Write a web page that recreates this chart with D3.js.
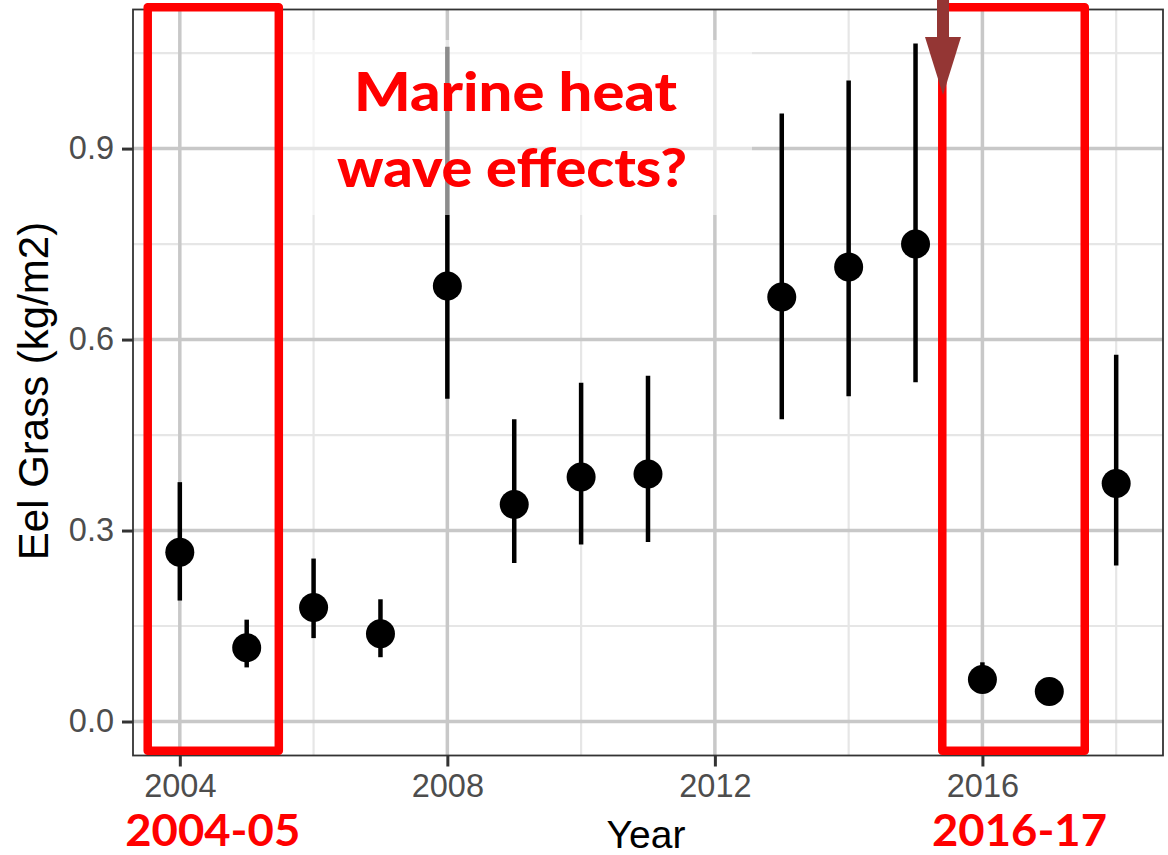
<!DOCTYPE html>
<html><head><meta charset="utf-8">
<script src="https://cdn.jsdelivr.net/npm/d3@7"></script>
<style>body{margin:0;background:#fff}svg{display:block}</style>
</head><body>
<svg id="c" width="1168" height="855"></svg>
<script>
const years = [2004,2005,2006,2007,2008,2009,2010,2011,2013,2014,2015,2016,2017,2018];
const means = [0.266,0.116,0.179,0.138,0.684,0.341,0.384,0.389,0.667,0.714,0.750,0.066,0.047,0.374];
const lower = [0.190,0.085,0.131,0.101,0.507,0.249,0.278,0.282,0.475,0.511,0.533,0.045,0.030,0.245];
const upper = [0.376,0.160,0.256,0.192,1.060,0.475,0.532,0.543,0.955,1.007,1.065,0.093,0.062,0.576];
const xMajor = [2004,2008,2012,2016];
const xMinor = [2006,2010,2014,2018];
const yMajor = [0.0,0.3,0.6,0.9];
const yMinor = [0.15,0.45,0.75,1.05];
const boxX0 = [2003.52, 2015.40];
const boxX1 = [2005.48, 2017.53];
const boxLabels = ["2004-05","2016-17"];
const noteLines = ["Marine heat","wave effects?"];

const svg = d3.select("#c");
const L=133, R=1163, T=9.5, B=755.5;
const x = d3.scaleLinear().domain([2003.3,2018.7]).range([L,R]);
const y = d3.scaleLinear().domain([-0.0534,1.1185]).range([B,T]);

svg.append("rect").attr("width",1168).attr("height",855).attr("fill","#fff");

// minor grid
const g = svg.append("g");
g.selectAll(".ym").data(yMinor).join("line").attr("x1",L).attr("x2",R)
 .attr("y1",d=>y(d)).attr("y2",d=>y(d)).attr("stroke","#e6e6e6").attr("stroke-width",2.2);
g.selectAll(".xm").data(xMinor).join("line").attr("y1",T).attr("y2",B)
 .attr("x1",d=>x(d)).attr("x2",d=>x(d)).attr("stroke","#e6e6e6").attr("stroke-width",2.2);
// major grid
g.selectAll(".yM").data(yMajor).join("line").attr("x1",L).attr("x2",R)
 .attr("y1",d=>y(d)).attr("y2",d=>y(d)).attr("stroke","#c8c8c8").attr("stroke-width",3.5);
g.selectAll(".xM").data(xMajor).join("line").attr("y1",T).attr("y2",B)
 .attr("x1",d=>x(d)).attr("x2",d=>x(d)).attr("stroke","#c8c8c8").attr("stroke-width",3.5);

// error bars & points
const idx = d3.range(years.length);
svg.append("g").selectAll("line").data(idx).join("line")
 .attr("x1",i=>x(years[i])).attr("x2",i=>x(years[i]))
 .attr("y1",i=>y(lower[i])).attr("y2",i=>y(upper[i]))
 .attr("stroke","#000").attr("stroke-width",4.5);
svg.append("g").selectAll("circle").data(idx).join("circle")
 .attr("cx",i=>x(years[i])).attr("cy",i=>y(means[i])).attr("r",14.5).attr("fill","#000");

// panel border
svg.append("rect").attr("x",L).attr("y",T).attr("width",R-L).attr("height",B-T)
 .attr("fill","none").attr("stroke","#333").attr("stroke-width",1.8);

// axes
const xAxis = svg.append("g").attr("transform",`translate(0,${B})`)
 .call(d3.axisBottom(x).tickValues(xMajor).tickFormat(d3.format("d")).tickSize(11).tickPadding(7));
const yAxis = svg.append("g").attr("transform",`translate(${L},0)`)
 .call(d3.axisLeft(y).tickValues(yMajor).tickFormat(d3.format(".1f")).tickSize(11).tickPadding(8));
[xAxis,yAxis].forEach(a=>{
  a.select(".domain").remove();
  a.selectAll(".tick line").attr("stroke","#333").attr("stroke-width",3);
  a.selectAll(".tick text").attr("fill","#4d4d4d").style("font-family","'Liberation Sans',Arial,sans-serif").style("font-size","32.5px");
});

// axis titles
svg.append("text").attr("x",646).attr("y",848).attr("text-anchor","middle")
 .style("font-family","'Liberation Sans',Arial,sans-serif").style("font-size","39px").attr("fill","#000").text("Year");
svg.append("text").attr("transform","translate(48,391) rotate(-90)").attr("text-anchor","middle")
 .style("font-family","'Liberation Sans',Arial,sans-serif").style("font-size","42px").attr("fill","#000").text("Eel Grass (kg/m2)");

// semi-transparent text backdrop
svg.append("rect").attr("x",283).attr("y",40).attr("width",469).attr("height",175)
 .attr("fill","#fff").attr("opacity",0.55);

// red boxes
svg.append("g").selectAll("rect").data([0,1]).join("rect")
 .attr("x",i=>x(boxX0[i])).attr("y",y(1.122))
 .attr("width",i=>x(boxX1[i])-x(boxX0[i])).attr("height",y(-0.046)-y(1.122))
 .attr("fill","none").attr("stroke","#ff0000").attr("stroke-width",8.5).attr("stroke-linejoin","round");

// box labels
svg.append("g").selectAll("text").data([0,1]).join("text")
 .attr("x",i=>(x(boxX0[i])+x(boxX1[i]))/2 + (i===0? -0.5 : 6)).attr("y",846)
 .attr("text-anchor","middle").attr("fill","#ff0000")
 .style("font-family","Lato,'Open Sans',sans-serif").style("font-weight","bold").style("font-size","44px")
 .attr("textLength",175).attr("lengthAdjust","spacingAndGlyphs").text(i=>boxLabels[i]);

// note text
const noteX=[515.5,512], noteY=[111,187], noteW=[323,350];
svg.append("g").selectAll("text").data([0,1]).join("text")
 .attr("x",i=>noteX[i]).attr("y",i=>noteY[i]).attr("text-anchor","middle").attr("fill","#ff0000")
 .style("font-family","Lato,'Open Sans',sans-serif").style("font-weight","900").style("font-size","54px")
 .attr("textLength",i=>noteW[i]).attr("lengthAdjust","spacingAndGlyphs").text(i=>noteLines[i]);

// arrow
const ax = 943;
svg.append("rect").attr("x",ax-6).attr("y",0).attr("width",12).attr("height",38).attr("fill","#943634");
svg.append("path").attr("d",`M${ax-18},37L${ax+18},37L${ax},95Z`).attr("fill","#943634");
</script>
</body></html>
